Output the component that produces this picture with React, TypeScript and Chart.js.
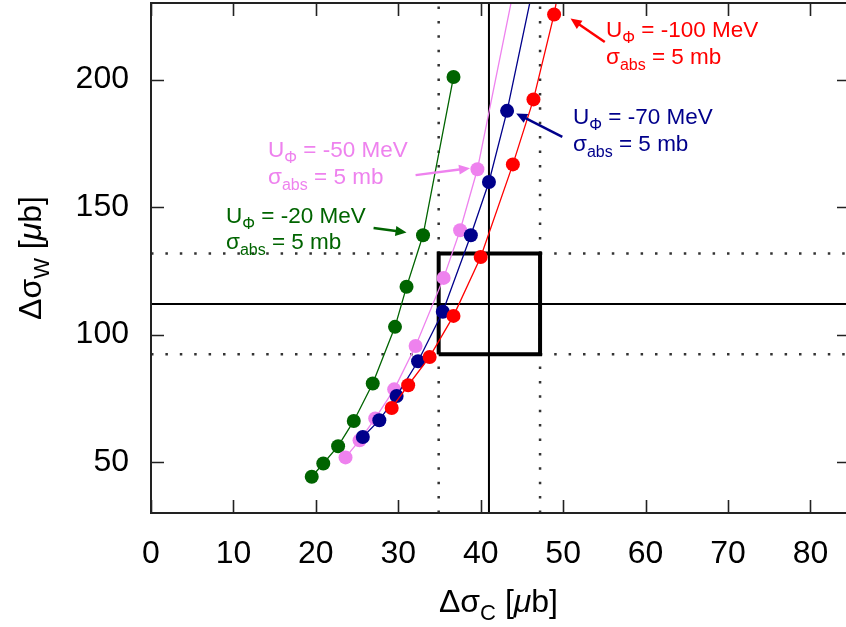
import { useEffect, useRef } from "react";
import { Chart, registerables } from "chart.js";

Chart.register(...registerables);

// ---- data ----
const xTicks = [0, 10, 20, 30, 40, 50, 60, 70, 80];
const yTicks = [50, 100, 150, 200];

const greenX = [19.5, 20.9, 22.7, 24.6, 26.9, 29.6, 31.0, 33.0, 36.7];
const greenY = [44.2, 49.4, 56.2, 66.1, 80.8, 103.0, 118.7, 138.9, 201.0];
const violetX = [23.6, 25.3, 27.2, 29.5, 32.1, 35.5, 37.5, 39.6, 44.3];
const violetY = [51.8, 58.5, 67.1, 78.5, 95.5, 122.2, 140.9, 164.8, 240];
const navyX = [25.7, 27.7, 29.8, 32.4, 35.4, 38.8, 41.0, 43.2, 46.6];
const navyY = [59.8, 66.4, 75.9, 89.5, 108.9, 138.9, 159.8, 187.7, 240];
const redX = [29.2, 31.2, 33.8, 36.7, 40.0, 43.9, 46.4, 48.9, 49.6];
const redY = [71.2, 80.1, 91.2, 107.3, 130.4, 166.7, 192.2, 225.5, 238];

const cCenter = 41.0;
const cLow = 34.9;
const cHigh = 47.2;
const wCenter = 112.0;
const wLow = 92.3;
const wHigh = 131.8;

const xMin = 0;
const xMax = 84.8;
const yMin = 30;
const yMax = 230;

const labels = [
  { text: "-100 MeV", color: "#ff0000", x: 55.2, y: 216.6, tail: [55.05, 214.7], tip: [50.9, 223.9] },
  { text: "-70 MeV", color: "#00008b", x: 51.2, y: 182.5, tail: [49.9, 177.5], tip: [44.3, 186.7] },
  { text: "-50 MeV", color: "#ee82ee", x: 14.2, y: 169.5, tail: [32.1, 162.5], tip: [38.7, 165.2] },
  { text: "-20 MeV", color: "#006400", x: 9.1, y: 143.8, tail: [27.0, 141.8], tip: [31.0, 140.0] },
];

const FONT = '"Liberation Sans", Arial, Helvetica, sans-serif';

const zip = (xs: number[], ys: number[]) => xs.map((x, i) => ({ x, y: ys[i] }));

type Part = { t: string; sub?: boolean; italic?: boolean };

function drawRich(
  ctx: CanvasRenderingContext2D,
  x: number,
  y: number,
  parts: Part[],
  size: number,
  subSize: number,
  subOff: number,
  color: string,
  center = false
) {
  const fontOf = (p: Part) => `${p.italic ? "italic " : ""}${p.sub ? subSize : size}px ${FONT}`;
  let total = 0;
  for (const p of parts) {
    ctx.font = fontOf(p);
    total += ctx.measureText(p.t).width;
  }
  let cx = center ? x - total / 2 : x;
  ctx.fillStyle = color;
  ctx.textBaseline = "alphabetic";
  ctx.textAlign = "left";
  for (const p of parts) {
    ctx.font = fontOf(p);
    ctx.fillText(p.t, cx, y + (p.sub ? subOff : 0));
    cx += ctx.measureText(p.t).width;
  }
}

function arrow(ctx: CanvasRenderingContext2D, x1: number, y1: number, x2: number, y2: number, color: string) {
  const ang = Math.atan2(y2 - y1, x2 - x1);
  const hl = 11;
  const hw = 5;
  ctx.strokeStyle = color;
  ctx.fillStyle = color;
  ctx.lineWidth = 2.5;
  ctx.beginPath();
  ctx.moveTo(x1, y1);
  ctx.lineTo(x2 - Math.cos(ang) * hl * 0.8, y2 - Math.sin(ang) * hl * 0.8);
  ctx.stroke();
  ctx.beginPath();
  ctx.moveTo(x2, y2);
  ctx.lineTo(x2 - Math.cos(ang) * hl - Math.sin(ang) * hw, y2 - Math.sin(ang) * hl + Math.cos(ang) * hw);
  ctx.lineTo(x2 - Math.cos(ang) * hl + Math.sin(ang) * hw, y2 - Math.sin(ang) * hl - Math.cos(ang) * hw);
  ctx.closePath();
  ctx.fill();
}

const framePlugin = {
  id: "frame",
  beforeDatasetsDraw(chart: any) {
    const { ctx, chartArea: a, scales } = chart;
    const xs = scales.x;
    const ys = scales.y;
    ctx.save();
    ctx.strokeStyle = "#222";
    ctx.lineWidth = 1.6;
    const tl = 13;
    ctx.beginPath();
    for (const v of xTicks) {
      const px = Math.round(xs.getPixelForValue(v)) + 0.5;
      ctx.moveTo(px, a.bottom);
      ctx.lineTo(px, a.bottom - tl);
      ctx.moveTo(px, a.top);
      ctx.lineTo(px, a.top + tl);
    }
    for (const v of yTicks) {
      const py = Math.round(ys.getPixelForValue(v)) + 0.5;
      ctx.moveTo(a.left, py);
      ctx.lineTo(a.left + tl, py);
      ctx.moveTo(a.right, py);
      ctx.lineTo(a.right - tl, py);
    }
    ctx.stroke();
    ctx.restore();
  },
  afterDraw(chart: any) {
    const { ctx, chartArea: a, scales } = chart;
    const xs = scales.x;
    const ys = scales.y;
    ctx.save();
    // frame
    ctx.strokeStyle = "#222";
    ctx.lineWidth = 2;
    ctx.strokeRect(a.left, a.top, a.right - a.left, a.bottom - a.top);

    // annotations
    for (const l of labels) {
      const px = xs.getPixelForValue(l.x);
      const py = ys.getPixelForValue(l.y);
      drawRich(ctx, px, py, [{ t: "U" }, { t: "Φ", sub: true }, { t: " = " + l.text }], 22.5, 16, 6, l.color);
      drawRich(ctx, px, py + 26.5, [{ t: "σ" }, { t: "abs", sub: true }, { t: " = 5 mb" }], 22.5, 16, 6, l.color);
      arrow(
        ctx,
        xs.getPixelForValue(l.tail[0]),
        ys.getPixelForValue(l.tail[1]),
        xs.getPixelForValue(l.tip[0]),
        ys.getPixelForValue(l.tip[1]),
        l.color
      );
    }

    // axis titles
    const cx = (a.left + a.right) / 2;
    drawRich(
      ctx,
      cx - 2,
      611.5,
      [{ t: "Δσ" }, { t: "C", sub: true }, { t: " [" }, { t: "μ", italic: true }, { t: "b]" }],
      32,
      22,
      8,
      "#000",
      true
    );
    ctx.save();
    ctx.translate(41, (a.top + a.bottom) / 2);
    ctx.rotate(-Math.PI / 2);
    drawRich(
      ctx,
      0,
      0,
      [{ t: "Δσ" }, { t: "W", sub: true }, { t: " [" }, { t: "μ", italic: true }, { t: "b]" }],
      32,
      22,
      8,
      "#000",
      true
    );
    ctx.restore();
    ctx.restore();
  },
};

const zeroPad = (s: any) => {
  s.paddingTop = 0;
  s.paddingBottom = 0;
  s.paddingLeft = 0;
  s.paddingRight = 0;
};

export default function App() {
  const ref = useRef<HTMLCanvasElement | null>(null);

  useEffect(() => {
    if (!ref.current) return;
    const series = (xs: number[], ys: number[], color: string) => ({
      data: zip(xs, ys),
      showLine: true,
      borderColor: color,
      backgroundColor: color,
      borderWidth: 1.3,
      pointRadius: 7,
      pointBorderWidth: 0,
      pointBackgroundColor: color,
      order: 1,
    });
    const refLine = (pts: { x: number; y: number }[], dotted: boolean, width: number) => ({
      data: pts,
      showLine: true,
      borderColor: dotted ? "#333" : "#000",
      borderWidth: width,
      borderDash: dotted ? [2.5, 11.9] : [],
      borderCapStyle: "butt",
      borderJoinStyle: "miter",
      pointRadius: 0,
      order: 2,
    });

    const chart = new Chart(ref.current, {
      type: "scatter",
      data: {
        datasets: [
          series(redX, redY, "#ff0000"),
          series(navyX, navyY, "#00008b"),
          series(violetX, violetY, "#ee82ee"),
          series(greenX, greenY, "#006400"),
          refLine(
            [
              { x: cLow, y: wLow },
              { x: cHigh, y: wLow },
              { x: cHigh, y: wHigh },
              { x: cLow, y: wHigh },
              { x: cLow, y: wLow },
            ],
            false,
            4
          ),
          refLine([{ x: cCenter, y: yMin }, { x: cCenter, y: yMax }], false, 2),
          refLine([{ x: xMin, y: wCenter }, { x: xMax, y: wCenter }], false, 2),
          refLine([{ x: cLow, y: yMin }, { x: cLow, y: yMax }], true, 2.5),
          refLine([{ x: cHigh, y: yMin }, { x: cHigh, y: yMax }], true, 2.5),
          refLine([{ x: xMin, y: wLow }, { x: xMax, y: wLow }], true, 2.5),
          refLine([{ x: xMin, y: wHigh }, { x: xMax, y: wHigh }], true, 2.5),
        ] as any,
      },
      options: {
        animation: false,
        responsive: false,
        devicePixelRatio: 1,
        layout: { autoPadding: false, padding: { top: 3, right: 2, left: 0, bottom: 0 } },
        plugins: { legend: { display: false }, tooltip: { enabled: false } },
        scales: {
          x: {
            type: "linear",
            min: xMin,
            max: xMax,
            grid: { display: false },
            border: { display: false },
            afterBuildTicks: (s: any) => {
              s.ticks = xTicks.map((v) => ({ value: v }));
            },
            afterFit: (s: any) => {
              s.height = 114;
              zeroPad(s);
            },
            ticks: {
              padding: 14,
              maxRotation: 0,
              autoSkip: false,
              color: "#000",
              font: { family: FONT, size: 32 },
            },
          },
          y: {
            type: "linear",
            min: yMin,
            max: yMax,
            grid: { display: false },
            border: { display: false },
            afterBuildTicks: (s: any) => {
              s.ticks = yTicks.map((v) => ({ value: v }));
            },
            afterFit: (s: any) => {
              s.width = 151;
              zeroPad(s);
            },
            ticks: {
              padding: 14,
              autoSkip: false,
              color: "#000",
              font: { family: FONT, size: 32 },
            },
          },
        },
      } as any,
      plugins: [framePlugin],
    });
    return () => chart.destroy();
  }, []);

  return (
    <div style={{ position: "fixed", left: 0, top: 0, width: 846, height: 627, overflow: "hidden", background: "#fff" }}>
      <canvas ref={ref} width={852} height={627} style={{ display: "block" }} />
    </div>
  );
}
